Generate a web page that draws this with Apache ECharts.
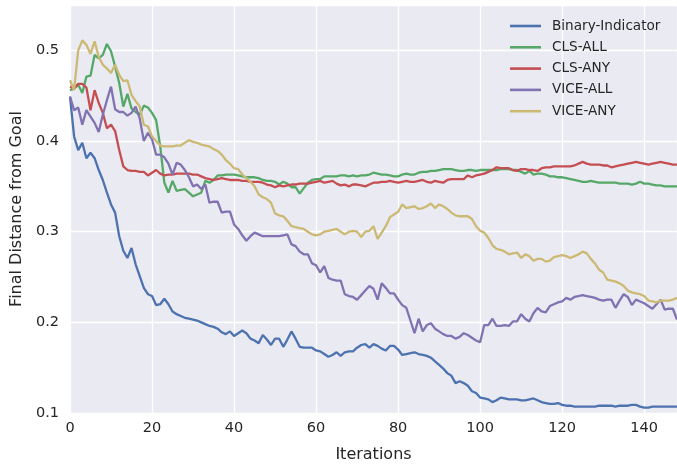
<!DOCTYPE html>
<html>
<head>
<meta charset="utf-8">
<script src="https://cdn.jsdelivr.net/npm/echarts@6/dist/echarts.min.js"></script>
<style>html,body{margin:0;padding:0;background:#fff}#chart{width:677px;height:468px}</style>
</head>
<body>
<div id="chart"></div>
<script>
const iterations = Array.from({length:149},(_,i)=>i);
const xTicks = [0,20,40,60,80,100,120,140];
const yTicks = [0.1,0.2,0.3,0.4,0.5];
const seriesNames = ['Binary-Indicator','CLS-ALL','CLS-ANY','VICE-ALL','VICE-ANY'];
const colors = ['#4C72B0','#55A868','#C44E52','#8172B2','#CCB974'];

const binaryIndicator = [0.449,0.405,0.390,0.398,0.381,0.387,0.381,0.368,0.357,0.343,
0.330,0.321,0.295,0.279,0.271,0.282,0.264,0.251,0.238,0.231,
0.229,0.219,0.220,0.226,0.220,0.212,0.209,0.207,0.205,0.204,
0.203,0.202,0.200,0.198,0.196,0.195,0.193,0.189,0.187,0.190,
0.185,0.188,0.191,0.188,0.182,0.180,0.177,0.186,0.181,0.175,
0.182,0.182,0.173,0.181,0.190,0.182,0.173,0.172,0.172,0.172,
0.169,0.168,0.165,0.162,0.164,0.167,0.163,0.167,0.168,0.168,
0.172,0.175,0.176,0.172,0.176,0.174,0.171,0.169,0.174,0.174,
0.170,0.164,0.165,0.166,0.167,0.165,0.164,0.163,0.161,0.157,
0.153,0.149,0.144,0.141,0.133,0.135,0.133,0.130,0.124,0.122,
0.117,0.116,0.115,0.112,0.114,0.117,0.116,0.115,0.115,0.115,
0.114,0.114,0.115,0.116,0.114,0.112,0.111,0.110,0.110,0.111,
0.109,0.108,0.108,0.107,0.107,0.107,0.107,0.107,0.107,0.108,
0.108,0.108,0.108,0.107,0.108,0.108,0.108,0.109,0.109,0.107,
0.106,0.106,0.107,0.107,0.107,0.107,0.107,0.107,0.107];

const clsAll = [0.456,0.458,0.462,0.453,0.471,0.472,0.495,0.491,0.495,0.507,
0.499,0.482,0.464,0.438,0.452,0.436,0.432,0.429,0.439,0.437,
0.431,0.423,0.394,0.354,0.343,0.356,0.345,0.346,0.347,0.343,
0.339,0.341,0.343,0.356,0.354,0.357,0.362,0.362,0.363,0.363,
0.363,0.362,0.361,0.360,0.360,0.360,0.359,0.357,0.356,0.356,
0.355,0.352,0.355,0.353,0.349,0.349,0.342,0.348,0.354,0.357,
0.358,0.358,0.361,0.361,0.361,0.361,0.362,0.362,0.361,0.362,
0.361,0.362,0.362,0.363,0.365,0.364,0.363,0.363,0.362,0.361,
0.361,0.363,0.364,0.363,0.363,0.365,0.366,0.366,0.367,0.367,
0.368,0.369,0.369,0.369,0.368,0.367,0.367,0.368,0.368,0.367,
0.368,0.368,0.368,0.368,0.368,0.369,0.369,0.369,0.368,0.368,
0.366,0.364,0.367,0.363,0.364,0.364,0.363,0.361,0.361,0.360,
0.360,0.359,0.358,0.357,0.356,0.355,0.355,0.356,0.355,0.354,
0.354,0.354,0.354,0.354,0.353,0.353,0.353,0.352,0.353,0.355,
0.353,0.353,0.352,0.351,0.351,0.350,0.350,0.350,0.350];

const clsAny = [0.460,0.458,0.463,0.463,0.459,0.434,0.456,0.442,0.431,0.414,
0.418,0.411,0.390,0.372,0.368,0.367,0.367,0.366,0.366,0.362,
0.365,0.368,0.364,0.362,0.363,0.363,0.364,0.364,0.364,0.364,
0.363,0.363,0.361,0.359,0.358,0.357,0.358,0.359,0.358,0.357,
0.357,0.357,0.356,0.356,0.355,0.355,0.355,0.354,0.352,0.351,
0.349,0.351,0.350,0.351,0.352,0.352,0.353,0.353,0.353,0.354,
0.355,0.356,0.354,0.355,0.356,0.353,0.351,0.352,0.350,0.352,
0.352,0.351,0.350,0.352,0.354,0.354,0.355,0.355,0.356,0.355,
0.354,0.355,0.356,0.355,0.355,0.356,0.357,0.355,0.354,0.356,
0.355,0.354,0.357,0.358,0.358,0.358,0.358,0.362,0.360,0.362,
0.363,0.364,0.366,0.368,0.371,0.370,0.370,0.370,0.368,0.367,
0.369,0.369,0.368,0.368,0.367,0.370,0.371,0.371,0.372,0.372,
0.372,0.372,0.372,0.373,0.375,0.377,0.375,0.374,0.374,0.374,
0.373,0.373,0.371,0.372,0.373,0.374,0.375,0.376,0.377,0.376,
0.375,0.374,0.375,0.376,0.377,0.376,0.375,0.374,0.374];

const viceAll = [0.449,0.434,0.437,0.418,0.434,0.427,0.420,0.410,0.429,0.445,
0.460,0.435,0.432,0.432,0.428,0.431,0.438,0.425,0.400,0.409,
0.402,0.385,0.385,0.382,0.375,0.363,0.376,0.374,0.368,0.360,
0.350,0.352,0.347,0.352,0.332,0.333,0.333,0.321,0.322,0.322,
0.308,0.303,0.296,0.290,0.295,0.299,0.297,0.295,0.295,0.295,
0.295,0.295,0.296,0.297,0.286,0.284,0.278,0.275,0.275,0.265,
0.263,0.255,0.262,0.249,0.247,0.246,0.246,0.231,0.229,0.228,
0.225,0.230,0.235,0.240,0.237,0.225,0.243,0.238,0.232,0.232,
0.225,0.219,0.216,0.202,0.188,0.204,0.190,0.197,0.199,0.193,
0.190,0.187,0.185,0.185,0.182,0.184,0.188,0.186,0.183,0.180,
0.178,0.197,0.197,0.204,0.196,0.196,0.197,0.196,0.201,0.201,
0.209,0.204,0.201,0.210,0.216,0.212,0.211,0.218,0.220,0.222,
0.223,0.227,0.225,0.228,0.229,0.230,0.229,0.228,0.227,0.225,
0.224,0.225,0.225,0.216,0.224,0.231,0.228,0.219,0.225,0.223,
0.221,0.218,0.215,0.220,0.225,0.214,0.215,0.215,0.203];

const viceAny = [0.467,0.456,0.500,0.511,0.506,0.496,0.510,0.493,0.484,0.480,
0.475,0.484,0.473,0.466,0.467,0.451,0.444,0.438,0.418,0.416,
0.405,0.400,0.395,0.394,0.394,0.394,0.395,0.395,0.398,0.401,
0.399,0.398,0.396,0.395,0.394,0.391,0.389,0.385,0.379,0.375,
0.370,0.369,0.363,0.359,0.355,0.350,0.341,0.338,0.336,0.332,
0.320,0.318,0.317,0.312,0.306,0.305,0.304,0.303,0.300,0.297,
0.296,0.297,0.300,0.301,0.302,0.303,0.300,0.297,0.300,0.301,
0.300,0.294,0.300,0.301,0.306,0.292,0.299,0.306,0.316,0.319,
0.322,0.330,0.326,0.327,0.328,0.325,0.326,0.328,0.331,0.326,
0.330,0.328,0.325,0.321,0.318,0.317,0.317,0.317,0.314,0.306,
0.301,0.299,0.293,0.285,0.281,0.280,0.278,0.275,0.276,0.277,
0.271,0.275,0.273,0.268,0.270,0.270,0.267,0.268,0.272,0.273,
0.274,0.273,0.271,0.273,0.275,0.278,0.276,0.270,0.265,0.258,
0.255,0.247,0.246,0.245,0.243,0.240,0.235,0.233,0.232,0.231,
0.229,0.224,0.223,0.222,0.224,0.224,0.224,0.225,0.227];

const allValues = [binaryIndicator, clsAll, clsAny, viceAll, viceAny];

const chart = echarts.init(document.getElementById('chart'), null, {renderer:'canvas'});
const textColor = '#262626';
const font = 'DejaVu Sans';
chart.setOption({
  animation: false,
  backgroundColor: '#ffffff',
  textStyle: {fontFamily: font},
  grid: {left: 70, right: 0, top: 5, bottom: 55, backgroundColor: '#EAEAF2', show: true, borderWidth: 0,
    containLabel: false, outerBoundsMode: 'none'},
  legend: {
    orient: 'vertical', left: 510, top: 18, padding: 0, icon: 'rect', itemWidth: 31, itemHeight: 2.6, itemGap: 5.3,
    textStyle: {fontFamily: font, fontSize: 13.6, color: textColor, lineHeight: 16, padding: [0,0,0,6]},
    data: seriesNames
  },
  xAxis: {
    type: 'value', min: 0, max: 148, interval: 20,
    name: 'Iterations', nameLocation: 'middle', nameGap: 34,
    nameTextStyle: {fontFamily: font, fontSize: 16, color: textColor},
    axisLine: {show: false}, axisTick: {show: false},
    axisLabel: {fontFamily: font, fontSize: 14.5, color: textColor, margin: 8, showMaxLabel: false,
      formatter: v => xTicks.includes(v) ? String(v) : ''},
    splitLine: {show: true, lineStyle: {color: '#ffffff', width: 1.3}}
  },
  yAxis: {
    type: 'value', min: 0.1, max: 0.55, interval: 0.1,
    name: 'Final Distance from Goal', nameLocation: 'middle', nameGap: 44,
    nameTextStyle: {fontFamily: font, fontSize: 16, color: textColor},
    axisLine: {show: false}, axisTick: {show: false},
    axisLabel: {fontFamily: font, fontSize: 14.5, color: textColor, margin: 11, showMaxLabel: false,
      formatter: v => {const t = yTicks.find(y => Math.abs(y - v) < 1e-6); return t !== undefined ? t.toFixed(1) : '';}},
    splitLine: {show: true, lineStyle: {color: '#ffffff', width: 1.3}}
  },
  series: seriesNames.map((name, k) => ({
    name: name, type: 'line', showSymbol: false, symbol: 'none',
    color: colors[k],
    lineStyle: {width: 2.3, color: colors[k]},
    data: iterations.map((x, i) => [x, allValues[k][i]])
  }))
});
</script>
</body>
</html>
